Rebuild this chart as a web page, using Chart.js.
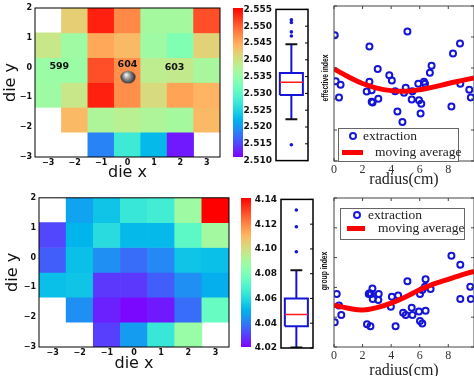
<!DOCTYPE html>
<html>
<head>
<meta charset="utf-8">
<script src="https://cdn.jsdelivr.net/npm/chart.js@4.4.0/dist/chart.umd.min.js"></script>
<style>
  html, body { margin: 0; padding: 0; width: 474px; height: 376px; overflow: hidden; background: #fff; }
  canvas { position: absolute; }
  .legend { position: absolute; border: 1px solid #666; background: #fff; font: 13.5px "Liberation Serif", serif; color: #222; }
  .legend span { position: absolute; white-space: nowrap; }
  .mk { width: 4px; height: 4px; border: 2px solid #1a1ae0; border-radius: 50%; }
  .ln { height: 5px; background: #f00; }
  .tx { line-height: 14px; }
  .ylab { position: absolute; font: bold 9px "Liberation Sans", sans-serif; color: #111; white-space: nowrap;
          transform: translate(-50%, -50%) rotate(-90deg) scaleX(0.75); }
</style>
</head>
<body>
<canvas id="heat-eff" width="228" height="188" style="left:0;top:0"></canvas>
<canvas id="cbar-eff" width="10" height="170" style="left:233px;top:0"></canvas>
<canvas id="box-eff" width="74" height="170" style="left:238px;top:0"></canvas>
<canvas id="scat-eff" width="180" height="192" style="left:300px;top:0"></canvas>

<canvas id="heat-grp" width="235" height="188" style="left:0;top:190px"></canvas>
<canvas id="cbar-grp" width="10" height="170" style="left:241px;top:190px"></canvas>
<canvas id="box-grp" width="74" height="170" style="left:243px;top:190px"></canvas>
<canvas id="scat-grp" width="180" height="190" style="left:300px;top:190px"></canvas>

<div class="ylab" style="left:324.5px;top:78px">effective index</div>
<div class="ylab" style="left:323.5px;top:271px">group index</div>

<div class="legend" style="left:338px;top:128px;width:119px;height:32px">
  <span class="mk" style="left:10px;top:3px"></span>
  <span class="tx" style="left:24px;top:0">extraction</span>
  <span class="ln" style="left:3px;top:21px;width:21px"></span>
  <span class="tx" style="left:36px;top:16px">moving average</span>
</div>
<div class="legend" style="left:340px;top:208px;width:123px;height:30px">
  <span class="mk" style="left:12px;top:2px"></span>
  <span class="tx" style="left:27px;top:-1px">extraction</span>
  <span class="ln" style="left:6px;top:17px;width:18px"></span>
  <span class="tx" style="left:37px;top:12px">moving average</span>
</div>

<script>
// ── Die map: 7 columns across x = -3..3, 6 rows across y = 2..-3 ──
const colLabels = ["c0", "c1", "c2", "c3", "c4", "c5", "c6"];
const rowEdges  = [2, 1.1667, 0.3333, -0.5, -1.3333, -2.1667, -3];

// effective index per die (rows top to bottom, null = no die)
const effGrid = [
  [null,   2.5415, 2.5532, 2.5469, 2.5357, 2.5357, 2.5505],
  [2.5388, 2.5352, 2.5447, 2.5433, 2.5352, 2.5325, 2.5411],
  [2.5348, 2.5348, 2.5505, 2.5465, 2.5379, 2.5384, 2.5361],
  [2.5352, 2.5388, 2.5532, 2.5465, 2.5402, 2.5451, 2.5438],
  [null,   2.5433, 2.5366, 2.5375, 2.5366, 2.5357, 2.5433],
  [null,   null,   2.5177, 2.5267, 2.5217, 2.5114, null  ]
];
// group index per die
const grpGrid = [
  [null,   4.0464, 4.0536, 4.0632, 4.0656, 4.0872, 4.1400],
  [4.0308, 4.0500, 4.0596, 4.0512, 4.0512, 4.0716, 4.0884],
  [4.0344, 4.0524, 4.0428, 4.0368, 4.0416, 4.0536, 4.0524],
  [4.0524, 4.0536, 4.0284, 4.0284, 4.0344, 4.0428, 4.0488],
  [null,   4.0428, 4.0248, 4.0212, 4.0236, 4.0368, 4.0740],
  [null,   null,   4.0296, 4.0452, 4.0632, 4.0860, null  ]
];

const effRange = [2.510, 2.555];
const grpRange = [4.02, 4.14];

const dieNames = ["599", "604", "603"];
const dieNameX = [-2.58, 0.0, 1.78];
const dieNameY = [0.02, 0.09, -0.01];
const probeX = [0.02];
const probeY = [-0.32];

// ── Box plots: [low whisker, q1, median, q3, high whisker] ──
const effBox = [2.5223, 2.5295, 2.5333, 2.5361, 2.5446];
const effOutliers = [2.5519, 2.5511, 2.5483, 2.5471, 2.5147];
const grpBox = [4.0205, 4.0375, 4.0470, 4.0599, 4.0828];
const grpOutliers = [4.1314, 4.1179, 4.0977];

// ── Index vs radius (y in axis units, no tick labels on the original) ──
const effRadius = [0.05, 0.12, 0.35, 0.46, 2.29, 2.48, 2.48, 2.64, 2.64, 2.70, 3.06, 3.10, 3.87, 4.05, 4.28, 4.44, 4.79, 4.90,
                   5.02, 5.14, 5.44, 5.49, 5.90, 5.95, 6.06, 6.11, 6.30, 6.37, 6.71, 6.83, 8.22, 8.33, 8.82, 8.84, 9.47, 9.58];
const effValue  = [4.06, 2.57, 2.05, 2.46, 2.24, 3.69, 2.56, 2.28, 1.91, 1.89, 2.97, 2.01, 2.77, 2.60, 2.25, 1.60, 1.26, 2.20,
                   2.36, 4.18, 1.98, 2.25, 2.49, 1.96, 1.53, 1.85, 2.56, 2.49, 2.85, 3.07, 1.76, 3.47, 3.79, 2.49, 2.30, 2.05];
const effAvgRadius = [0, 1, 2, 3, 4, 5, 6, 7, 8, 9, 9.8];
const effAvg       = [2.97, 2.72, 2.50, 2.35, 2.27, 2.25, 2.30, 2.39, 2.50, 2.60, 2.68];

const grpRadius = [0.05, 0.19, 0.35, 0.51, 2.31, 2.43, 2.50, 2.55, 2.59, 2.69, 2.71, 3.10, 3.13, 3.98, 4.05, 4.31, 4.49, 4.84,
                   5.02, 5.14, 5.44, 5.49, 5.95, 6.02, 6.02, 6.18, 6.18, 6.37, 6.41, 6.41, 6.76, 8.22, 8.84, 8.84, 9.54, 9.58];
const grpValue  = [0.83, 1.78, 1.39, 1.07, 0.76, 1.78, 1.80, 0.70, 1.78, 1.96, 1.61, 1.58, 1.78, 1.35, 1.69, 0.70, 1.73, 1.15,
                   1.07, 2.21, 1.32, 1.07, 1.19, 0.87, 1.78, 0.79, 1.91, 2.02, 2.27, 1.22, 1.95, 3.06, 2.76, 1.61, 2.02, 1.61];
const grpAvgRadius = [0, 1, 2, 3, 4, 5, 6, 7, 8, 9, 9.8];
const grpAvg       = [1.40, 1.30, 1.24, 1.32, 1.47, 1.68, 1.92, 2.12, 2.27, 2.43, 2.54];

const BLUE = "#1515d8";

Chart.defaults.font.family = "'DejaVu Sans', sans-serif";
Chart.defaults.color = "#111";
Chart.defaults.animation = false;
Chart.defaults.events = [];
Chart.defaults.plugins.legend.display = false;
Chart.defaults.plugins.tooltip.enabled = false;

// matplotlib "rainbow" colormap
function rainbow(t) {
  t = Math.max(0, Math.min(1, t));
  const r = Math.min(1, Math.abs(2 * t - 0.5));
  const g = Math.sin(Math.PI * t);
  const b = Math.cos(Math.PI * t / 2);
  return `rgb(${Math.round(r * 255)},${Math.round(g * 255)},${Math.round(b * 255)})`;
}

function makeBall() {
  const c = document.createElement("canvas");
  c.width = 16; c.height = 14;
  const x = c.getContext("2d");
  const g = x.createRadialGradient(6, 4.5, 0.5, 8, 7, 8);
  g.addColorStop(0, "#f4f4f4");
  g.addColorStop(0.45, "#8a8a8a");
  g.addColorStop(1, "#1c1c1c");
  x.fillStyle = g;
  x.beginPath();
  x.ellipse(8, 7, 7.5, 6.3, 0, 0, Math.PI * 2);
  x.fill();
  return c;
}

// ── plot frame with optional inward tick marks ──
const framePlugin = {
  id: "frame",
  defaults: { color: "#000", width: 1, tickLen: 0, xTicks: false, ySides: [] },
  afterDatasetsDraw(chart, args, opts) {
    const { ctx, chartArea: a } = chart;
    ctx.save();
    ctx.strokeStyle = opts.color;
    ctx.lineWidth = opts.width;
    ctx.strokeRect(a.left, a.top, a.right - a.left, a.bottom - a.top);
    if (opts.tickLen) {
      const L = opts.tickLen;
      ctx.lineWidth = 1;
      ctx.beginPath();
      if (opts.xTicks) {
        chart.scales.x.ticks.forEach(t => {
          const px = chart.scales.x.getPixelForValue(t.value);
          ctx.moveTo(px, a.bottom); ctx.lineTo(px, a.bottom - L);
          ctx.moveTo(px, a.top);    ctx.lineTo(px, a.top + L);
        });
      }
      chart.scales.y.ticks.forEach(t => {
        const py = chart.scales.y.getPixelForValue(t.value);
        if (opts.ySides.includes("left"))  { ctx.moveTo(a.left, py);  ctx.lineTo(a.left + L, py); }
        if (opts.ySides.includes("right")) { ctx.moveTo(a.right, py); ctx.lineTo(a.right - L, py); }
      });
      ctx.stroke();
    }
    ctx.restore();
  }
};

const dieNamePlugin = {
  id: "dieNames",
  afterDatasetsDraw(chart) {
    const { ctx, scales: { x, y } } = chart;
    ctx.save();
    ctx.font = "bold 9.5px 'DejaVu Sans'";
    ctx.fillStyle = "#111";
    ctx.textAlign = "center";
    ctx.textBaseline = "middle";
    dieNames.forEach((n, i) => ctx.fillText(n, x.getPixelForValue(dieNameX[i]), y.getPixelForValue(dieNameY[i])));
    ctx.restore();
  }
};

const minusFmt = v => (v < 0 ? "\u2212" + Math.abs(v) : String(v));

// ── heat map of dies ──
function heatChart(id, grid, range, lay, withDies) {
  const [vmin, vmax] = range;
  const datasets = grid.map((row, i) => ({
    type: "bar",
    xAxisID: "xc",
    yAxisID: "y",
    order: 1,
    data: row.map(v => (v == null ? null : [rowEdges[i + 1], rowEdges[i]])),
    backgroundColor: row.map(v => (v == null ? "rgba(0,0,0,0)" : rainbow((v - vmin) / (vmax - vmin)))),
    borderWidth: 0,
    borderSkipped: false,
    grouped: false,
    barPercentage: 1,
    categoryPercentage: 1
  }));
  if (withDies) {
    datasets.push({
      type: "scatter", xAxisID: "x", yAxisID: "y", order: 0,
      data: probeX.map((x, i) => ({ x, y: probeY[i] })),
      pointStyle: makeBall(), pointRadius: 7
    });
  }
  new Chart(document.getElementById(id), {
    type: "bar",
    data: { labels: colLabels, datasets },
    options: {
      responsive: false,
      layout: { padding: { top: lay.top, right: lay.right, left: 0, bottom: 0 } },
      plugins: { frame: { width: 1 } },
      scales: {
        xc: { type: "category", display: false, offset: true },
        x: {
          type: "linear", position: "bottom", min: -3, max: 3,
          grid: { display: false, drawTicks: false },
          border: { display: false },
          ticks: { stepSize: 1, padding: 1, font: { size: 8, weight: "bold" }, callback: minusFmt },
          title: { display: true, text: "die x", font: { size: 16 }, padding: { top: 0, bottom: lay.xTitlePad } },
          afterFit: s => { s.height = lay.xHeight; }
        },
        y: {
          type: "linear", min: -3, max: 2,
          grid: { display: false, drawTicks: false },
          border: { display: false },
          ticks: { stepSize: 1, padding: 3, font: { size: 8, weight: "bold" }, callback: minusFmt },
          title: { display: true, text: "die y", font: { size: 16 }, padding: { top: lay.yTitlePad, bottom: 0 } },
          afterFit: s => { s.width = lay.yWidth; }
        }
      }
    },
    plugins: withDies ? [framePlugin, dieNamePlugin] : [framePlugin]
  });
}

// ── colour bar ──
function colorBar(id, range, lay) {
  new Chart(document.getElementById(id), {
    type: "bar",
    data: {
      labels: ["scale"],
      datasets: [{
        data: [range],
        borderWidth: 0,
        borderSkipped: false,
        barPercentage: 1,
        categoryPercentage: 1,
        backgroundColor(ctx) {
          const a = ctx.chart.chartArea;
          if (!a) return "#888";
          const g = ctx.chart.ctx.createLinearGradient(0, a.bottom, 0, a.top);
          for (let i = 0; i <= 20; i++) g.addColorStop(i / 20, rainbow(i / 20));
          return g;
        }
      }]
    },
    options: {
      responsive: false,
      layout: { padding: { top: lay.top, bottom: lay.bottom, left: 0, right: 0 } },
      scales: {
        x: { display: false },
        y: { display: false, min: range[0], max: range[1] }
      }
    }
  });
}

// ── box plot from the five summary values ──
function boxChart(id, stats, outliers, range, step, decimals, lay) {
  const [lo, q1, med, q3, hi] = stats;
  const c = 0.96, bw = 0.72, cw = 0.37;
  const seg = (pts, color, width) => ({
    type: "line", data: pts, borderColor: color, borderWidth: width,
    pointRadius: 0, fill: false, tension: 0
  });
  new Chart(document.getElementById(id), {
    type: "scatter",
    data: {
      datasets: [
        {
          type: "scatter", data: outliers.map(y => ({ x: c, y })),
          pointRadius: 1.8, backgroundColor: BLUE, borderWidth: 0
        },
        seg([{ x: c - bw, y: med }, { x: c + bw, y: med }], "#ff1a1a", 1.5),
        seg([{ x: c - bw, y: q1 }, { x: c + bw, y: q1 }, { x: c + bw, y: q3 },
             { x: c - bw, y: q3 }, { x: c - bw, y: q1 }], BLUE, 2),
        seg([{ x: c - cw, y: hi }, { x: c + cw, y: hi }], "#111", 2),
        seg([{ x: c - cw, y: lo }, { x: c + cw, y: lo }], "#111", 2),
        seg([{ x: c, y: q3 }, { x: c, y: hi }], BLUE, 2),
        seg([{ x: c, y: lo }, { x: c, y: q1 }], BLUE, 2)
      ]
    },
    options: {
      responsive: false,
      layout: { padding: { top: lay.top, right: lay.right, bottom: lay.bottom, left: 0 } },
      plugins: { frame: { width: 1.5, tickLen: 3, ySides: ["right"] } },
      scales: {
        x: { display: false, min: 0, max: 2 },
        y: {
          min: range[0], max: range[1],
          grid: { display: false, drawTicks: false },
          border: { display: false },
          ticks: {
            stepSize: step, autoSkip: false, padding: 4,
            font: { size: 9, weight: "bold" },
            callback: v => v.toFixed(decimals)
          },
          afterFit: s => { s.width = lay.yWidth; }
        }
      }
    },
    plugins: [framePlugin]
  });
}

// ── extraction points and moving average vs radius ──
function radiusChart(id, rs, vals, avgR, avg, lay) {
  new Chart(document.getElementById(id), {
    type: "scatter",
    data: {
      datasets: [
        {
          type: "line", data: avgR.map((x, i) => ({ x, y: avg[i] })),
          borderColor: "#ff0000", borderWidth: 5, pointRadius: 0, tension: 0.4, fill: false
        },
        {
          type: "scatter", data: rs.map((x, i) => ({ x, y: vals[i] })),
          pointRadius: 3, borderWidth: 2, borderColor: BLUE, backgroundColor: "rgba(255,255,255,0)"
        }
      ]
    },
    options: {
      responsive: false,
      layout: { padding: { top: lay.top, right: 5, left: 0, bottom: 0 } },
      plugins: { frame: { color: "#444", width: 1, tickLen: 3, xTicks: true, ySides: ["left", "right"] } },
      scales: {
        x: {
          min: 0, max: 9.8,
          grid: { display: false, drawTicks: false },
          border: { display: false },
          ticks: {
            stepSize: 2, includeBounds: false, padding: 2, color: "#333",
            font: { family: "'Liberation Serif', serif", size: 12 }
          },
          title: {
            display: true, text: "radius(cm)", color: "#222",
            font: { family: "'Liberation Serif', serif", size: 16 },
            padding: { top: 0, bottom: lay.xTitlePad }
          },
          afterFit: s => { s.height = lay.xHeight; }
        },
        y: {
          min: 0, max: 5,
          grid: { display: false, drawTicks: false },
          border: { display: false },
          ticks: { stepSize: 1, display: false },
          afterFit: s => { s.width = 34; }
        }
      }
    },
    plugins: [framePlugin]
  });
}

heatChart("heat-eff", effGrid, effRange, { top: 8, right: 6, yWidth: 35, xHeight: 31, xTitlePad: 5.5, yTitlePad: 1.5 }, true);
heatChart("heat-grp", grpGrid, grpRange, { top: 7, right: 6, yWidth: 39, xHeight: 31, xTitlePad: 4.4, yTitlePad: 3 }, false);

colorBar("cbar-eff", effRange, { top: 8, bottom: 13 });
colorBar("cbar-grp", grpRange, { top: 8, bottom: 13 });

boxChart("box-eff", effBox, effOutliers, effRange, 0.005, 3, { top: 7, right: 3, bottom: 9, yWidth: 38 });
boxChart("box-grp", grpBox, grpOutliers, grpRange, 0.02, 2, { top: 7, right: 4, bottom: 12, yWidth: 38 });

radiusChart("scat-eff", effRadius, effValue, effAvgRadius, effAvg, { top: 5, xHeight: 31, xTitlePad: 2.4 });
radiusChart("scat-grp", grpRadius, grpValue, grpAvgRadius, grpAvg, { top: 8, xHeight: 33, xTitlePad: 0 });
</script>
</body>
</html>
